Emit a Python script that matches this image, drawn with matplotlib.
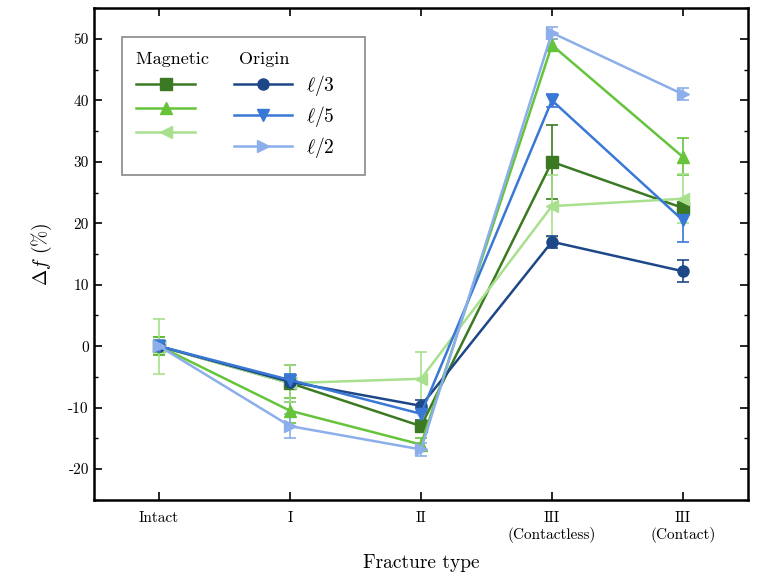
import matplotlib
matplotlib.use("Agg")
import matplotlib.pyplot as plt
from matplotlib.ticker import MultipleLocator
from matplotlib.lines import Line2D

plt.rcParams['font.family'] = 'serif'
plt.rcParams['font.serif'] = ['cmr10', 'DejaVu Serif']
plt.rcParams['mathtext.fontset'] = 'cm'
plt.rcParams['axes.unicode_minus'] = False
plt.rcParams['axes.formatter.use_mathtext'] = False

categories = ["Intact", "I", "II", "III\n(Contactless)", "III\n(Contact)"]

# magnetic excitation
mag_l3 = [0, -6, -13, 30, 22.5]
mag_l3_err = [1.5, 3, 1, 6, 1]
mag_l5 = [0, -10.5, -16, 49, 30.8]
mag_l5_err = [1.5, 2, 1, 1, 3]
mag_l2 = [0, -6, -5.3, 22.8, 24]
mag_l2_err = [4.5, 3, 4.3, 5, 4]

# origin excitation
ori_l3 = [0, -5.8, -9.7, 17, 12.2]
ori_l3_err = [1, 1, 1, 1, 1.8]
ori_l5 = [0, -5.5, -11, 40, 20.5]
ori_l5_err = [1, 1, 1, 1, 3.5]
ori_l2 = [0, -13, -16.8, 51, 41]
ori_l2_err = [1, 2, 1, 1, 1]

x = list(range(len(categories)))

fig = plt.figure(figsize=(7.62, 5.86), dpi=100)
ax = fig.add_axes([0.123, 0.147, 0.859, 0.839])

series = [
    (mag_l3, mag_l3_err, "#3b7a22", "s"),
    (mag_l5, mag_l5_err, "#66c43a", "^"),
    (mag_l2, mag_l2_err, "#a8e08e", "<"),
    (ori_l3, ori_l3_err, "#1d4787", "o"),
    (ori_l5, ori_l5_err, "#3a78d6", "v"),
    (ori_l2, ori_l2_err, "#8caeea", ">"),
]

handles = []
for y, e, c, m in series:
    ax.errorbar(x, y, yerr=e, color=c, marker=m, ms=8, lw=1.8,
                capsize=4, elinewidth=1.2, capthick=1.2)
    handles.append(Line2D([], [], color=c, marker=m, ms=8, lw=1.8))

ax.set_xlim(-0.5, 4.5)
ax.set_ylim(-25, 55)
ax.set_xticks(x)
ax.set_xticklabels(categories, fontsize=11)
ax.yaxis.set_major_locator(MultipleLocator(10))
ax.yaxis.set_minor_locator(MultipleLocator(5))
ax.tick_params(axis='both', which='both', direction='in', right=True, top=True, labelsize=11)
ax.tick_params(axis='x', pad=8)
ax.tick_params(which='major', length=6, width=1.2)
ax.tick_params(which='minor', length=3, width=1.0)
for s in ax.spines.values():
    s.set_linewidth(1.8)

ax.set_xlabel("Fracture type", fontsize=14, labelpad=8)
ax.set_ylabel(r"$\Delta f$ (%)", fontsize=14, labelpad=10)

leg_labels = ["", "", "", r"$\ell/3$", r"$\ell/5$", r"$\ell/2$"]
leg = ax.legend(handles, leg_labels, ncol=2, loc="upper left",
                bbox_to_anchor=(0.043, 0.941), title="Magnetic     Origin          ",
                fontsize=14, title_fontsize=13, handlelength=3.0,
                columnspacing=1.3, handletextpad=0.7, fancybox=False,
                edgecolor="#888888", framealpha=1, borderpad=0.75,
                borderaxespad=0, labelspacing=0.31)
leg._legend_box.align = "left"
leg.get_frame().set_linewidth(1.2)

fig.savefig("out.png", dpi=100)
